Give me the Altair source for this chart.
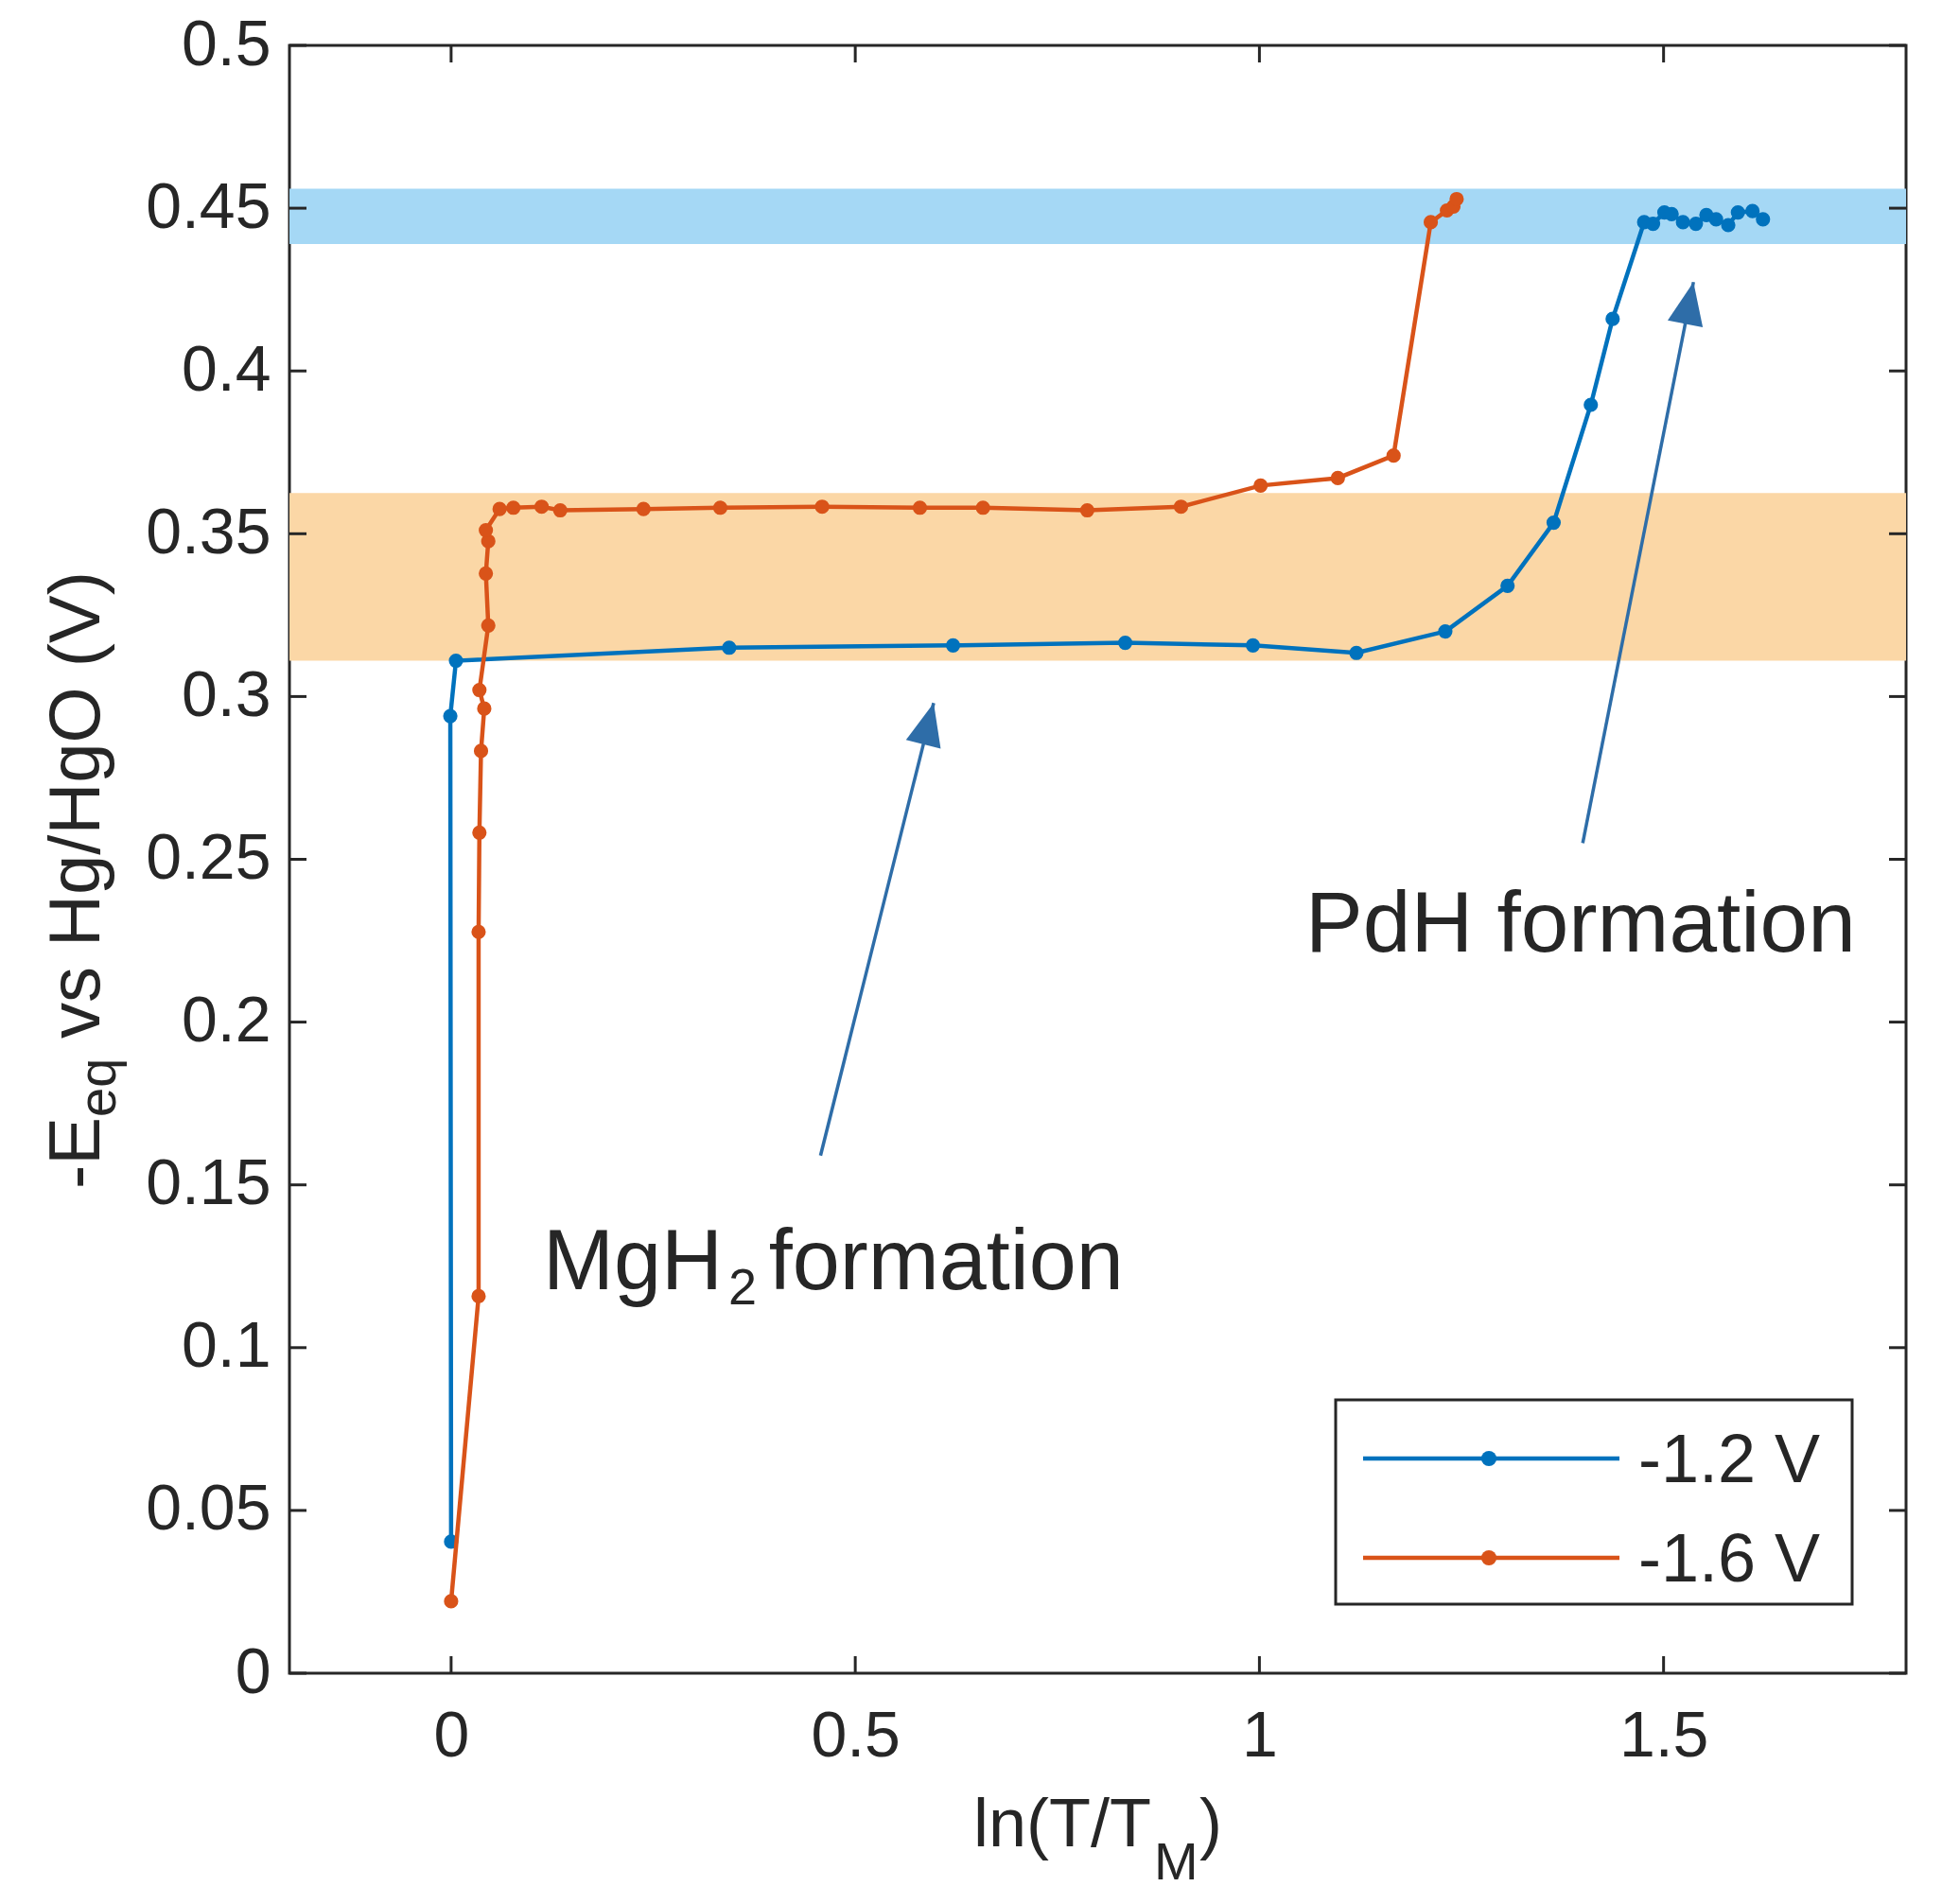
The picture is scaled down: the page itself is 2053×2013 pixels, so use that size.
import math
import altair as alt
import pandas as pd

# ---------------- data ----------------
series_names = ["-1.2 V", "-1.6 V"]
series_colors = ["#0072BD", "#D95319"]

blue_x = [0.000, -0.001, 0.006, 0.344, 0.621, 0.834, 0.992, 1.120, 1.230, 1.307,
          1.364, 1.410, 1.437, 1.476, 1.487, 1.501, 1.510, 1.524, 1.540, 1.553,
          1.565, 1.580, 1.592, 1.610, 1.623]
blue_y = [0.0404, 0.294, 0.311, 0.315, 0.3157, 0.3165, 0.3157, 0.3134, 0.320, 0.334,
          0.3534, 0.3896, 0.416, 0.4457, 0.4452, 0.4487, 0.4482, 0.4457, 0.4452, 0.4479,
          0.4466, 0.4448, 0.4487, 0.4491, 0.4466]

orange_x = [0.000, 0.034, 0.034, 0.035, 0.037, 0.041, 0.035, 0.046, 0.043, 0.046,
            0.043, 0.060, 0.077, 0.112, 0.135, 0.238, 0.333, 0.459, 0.580, 0.658,
            0.787, 0.903, 1.0015, 1.097, 1.166, 1.212, 1.232, 1.240, 1.244]
orange_y = [0.0221, 0.1158, 0.2277, 0.2582, 0.2833, 0.2963, 0.302, 0.3218, 0.3378, 0.3477,
            0.3511, 0.3576, 0.358, 0.3583, 0.3572, 0.3576, 0.358, 0.3583, 0.358, 0.358,
            0.3572, 0.3583, 0.3648, 0.3671, 0.374, 0.4457, 0.4493, 0.4505, 0.4528]

band_names = ["MgH2 band", "PdH band"]
band_lo = [0.311, 0.439]
band_hi = [0.3625, 0.456]
band_colors = ["#FBD7A6", "#A5D8F5"]

arrow_labels = ["MgH2", "PdH"]
arrow_x_tail = [0.457, 1.400]
arrow_y_tail = [0.159, 0.255]
arrow_x_tip = [0.597, 1.537]
arrow_y_tip = [0.298, 0.4273]

x_ticks = [0, 0.5, 1, 1.5]
y_ticks = [0, 0.05, 0.1, 0.15, 0.2, 0.25, 0.3, 0.35, 0.4, 0.45, 0.5]

x_domain = [-0.2, 1.8]
y_domain = [0, 0.5]

# ---------------- layout / style ----------------
W, H = 1709, 1721
FONT = "Liberation Sans"
INK = "#262626"
ARROW = "#2E6DA8"
TICK = 18

series_data = [
    pd.DataFrame({"idx": list(range(len(blue_x))), "x": blue_x, "y": blue_y}),
    pd.DataFrame({"idx": list(range(len(orange_x))), "x": orange_x, "y": orange_y}),
]

df_arrows = pd.DataFrame({"lab": arrow_labels, "x0": arrow_x_tail, "y0": arrow_y_tail,
                          "x1": arrow_x_tip, "y1": arrow_y_tip})
px_x = W / (x_domain[1] - x_domain[0])
px_y = H / (y_domain[1] - y_domain[0])
df_arrows["ang"] = [
    math.degrees(math.atan2((r.x1 - r.x0) * px_x, (r.y1 - r.y0) * px_y))
    for r in df_arrows.itertuples()
]
df_xt = pd.DataFrame({"v": x_ticks})
df_yt = pd.DataFrame({"v": y_ticks})
one = pd.DataFrame({"a": [0]})

xs = alt.Scale(domain=x_domain, nice=False, zero=False)
ys = alt.Scale(domain=y_domain, nice=False, zero=False)

x_axis = alt.Axis(values=x_ticks, format="~g", labelFontSize=68, labelFont=FONT,
                  labelColor=INK, ticks=False, domain=False, grid=False, labelPadding=33,
                  title=None, labelFlush=False)
y_axis = alt.Axis(values=y_ticks, format="~g", labelFontSize=68, labelFont=FONT,
                  labelColor=INK, ticks=False, domain=False, grid=False, labelPadding=20,
                  title=None, labelFlush=False)

def X(f):
    return alt.X(f, type="quantitative", scale=xs, axis=x_axis)

def Y(f):
    return alt.Y(f, type="quantitative", scale=ys, axis=y_axis)

bands = []
for name, lo, hi, col in zip(band_names, band_lo, band_hi, band_colors):
    d = pd.DataFrame({"band": [name], "lo": [lo], "hi": [hi]})
    bands.append(alt.Chart(d).mark_rect(opacity=1, color=col).encode(
        x=alt.value(0), x2=alt.value(W), y=Y("lo"), y2="hi"))

xt_bottom = alt.Chart(df_xt).mark_rule(color=INK, strokeWidth=3).encode(
    x=X("v"), y=alt.value(H), y2=alt.value(H - TICK))
xt_top = alt.Chart(df_xt).mark_rule(color=INK, strokeWidth=3).encode(
    x=X("v"), y=alt.value(0), y2=alt.value(TICK))
yt_left = alt.Chart(df_yt).mark_rule(color=INK, strokeWidth=3).encode(
    y=Y("v"), x=alt.value(0), x2=alt.value(TICK))
yt_right = alt.Chart(df_yt).mark_rule(color=INK, strokeWidth=3).encode(
    y=Y("v"), x=alt.value(W), x2=alt.value(W - TICK))

arrow_shafts = alt.Chart(df_arrows).mark_rule(color=ARROW, strokeWidth=3.5).encode(
    x=X("x0"), y=Y("y0"), x2="x1", y2="y1")
arrow_heads = alt.Chart(df_arrows).mark_point(
    shape="M0,0L-0.42,1L0.42,1Z", filled=True, size=8100, opacity=1,
    color=ARROW, strokeWidth=0,
).encode(x=X("x1"), y=Y("y1"), angle=alt.Angle("ang:Q", scale=None))

series_layers = []
for d, col in zip(series_data, series_colors):
    series_layers.append(alt.Chart(d).mark_line(strokeWidth=4.5, color=col).encode(
        x=X("x"), y=Y("y"), order=alt.Order("idx:Q")))
    series_layers.append(alt.Chart(d).mark_circle(size=230, opacity=1, color=col).encode(
        x=X("x"), y=Y("y")))

def dtext(txt, xv, yv, fs, align="left", dx=0, dy=0):
    d = pd.DataFrame({"t": [txt], "x": [xv], "y": [yv]})
    return alt.Chart(d).mark_text(font=FONT, fontSize=fs, color=INK, align=align,
                                  baseline="alphabetic", dx=dx, dy=dy).encode(
        x=X("x"), y=Y("y"), text="t:N")

ann = [
    dtext("MgH", 0.336, 0.118, 90, align="right"),
    dtext("2", 0.336, 0.118, 54, align="left", dx=6, dy=16),
    dtext("formation", 0.393, 0.118, 90),
    dtext("PdH formation", 1.057, 0.2217, 91),
]

def ptext(txt, px, py, fs, align="left", angle=0):
    d = pd.DataFrame({"t": [txt]})
    kw = dict(font=FONT, fontSize=fs, color=INK, align=align, baseline="alphabetic")
    if angle:
        kw["angle"] = angle
    return alt.Chart(d).mark_text(**kw).encode(
        x=alt.value(px), y=alt.value(py), text="t:N")

titles = [
    ptext("ln(T/T", 911, 1904, 72, align="right"),
    ptext("M", 914, 1939, 56),
    ptext(")", 962, 1904, 72),
    ptext("-E", -201, 1209, 76, angle=270),
    ptext("eq", -184, 1133, 56, angle=270),
    ptext("vs Hg/HgO (V)", -201, 1050, 76, angle=270),
]

legend_layers = [
    alt.Chart(one).mark_rect(fill="white", stroke=INK, strokeWidth=3).encode(
        x=alt.value(1106), x2=alt.value(1652), y=alt.value(1432), y2=alt.value(1648))
]
for i, (name, col) in enumerate(zip(series_names, series_colors)):
    ly = 1494 + i * 105
    legend_layers.append(alt.Chart(one).mark_rule(color=col, strokeWidth=4.5).encode(
        x=alt.value(1135), x2=alt.value(1406), y=alt.value(ly)))
    legend_layers.append(alt.Chart(one).mark_circle(color=col, size=260, opacity=1).encode(
        x=alt.value(1268), y=alt.value(ly)))
    legend_layers.append(ptext(name, 1426, ly + 25, 72))

chart = alt.layer(
    *bands, xt_bottom, xt_top, yt_left, yt_right,
    arrow_shafts, arrow_heads, *series_layers,
    *ann, *titles, *legend_layers,
).properties(
    width=W, height=H,
    autosize=alt.AutoSizeParams(type="none"),
    padding={"left": 298, "top": 40, "right": 20, "bottom": 236},
    background="white",
).configure_view(stroke=INK, strokeWidth=3)

chart.save("out.html", embed_options={"renderer": "svg", "actions": False})
